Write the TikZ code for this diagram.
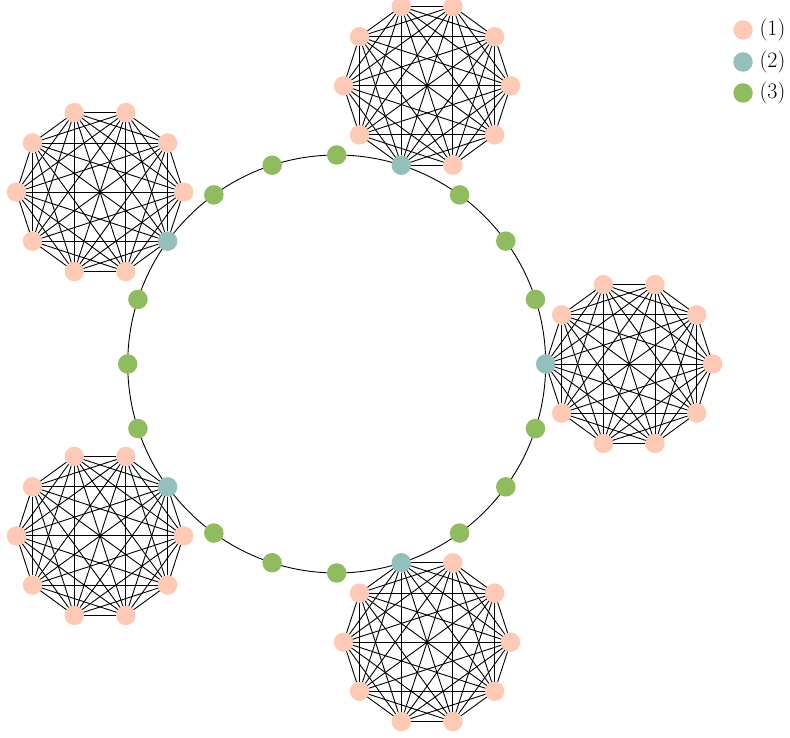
\documentclass[tikz,border=0pt]{standalone}
\definecolor{pinkc}{HTML}{FFCAB5}
\definecolor{tealc}{HTML}{93C0BD}
\definecolor{greenc}{HTML}{8FBC5E}
\begin{document}
\begin{tikzpicture}[x=1pt,y=1pt,
  dot/.style={circle,inner sep=0pt,outer sep=0pt,minimum size=19.5pt,draw=none},
  edge/.style={black,line width=0.9pt},
  ringline/.style={black,line width=0.9pt},
  legtext/.style={anchor=west,inner sep=0pt,font=\fontsize{22}{26}\selectfont}]
\useasboundingbox (0,0) rectangle (790,738);
\begin{scope}[shift={(336.7,374)}]
  \coordinate (O) at (0,0);
  \draw[ringline] (O) circle[radius=209];
  % green ring nodes
  \foreach \i in {1,...,19} {
    \pgfmathtruncatemacro\m{mod(\i,4)}
    \ifnum\m=0 \else
      \node[dot,fill=greenc] (r\i) at (18*\i:209) {};
    \fi
  }
  % cliques
  \foreach \j in {0,...,4} {
    \pgfmathtruncatemacro\kz{mod(2*\j+5,10)}
    \begin{scope}[shift={(72*\j:292.5)}]
      \foreach \k in {0,...,9} {
        \ifnum\k=\kz
          \node[dot,fill=tealc] (c\j-\k) at (36*\k:83.5) {};
        \else
          \node[dot,fill=pinkc] (c\j-\k) at (36*\k:83.5) {};
        \fi
      }
    \end{scope}
    \foreach \a in {0,...,8} {
      \pgfmathtruncatemacro\an{\a+1}
      \foreach \b in {\an,...,9} {
        \draw[edge] (c\j-\a) -- (c\j-\b);
      }
    }
  }
\end{scope}
% legend
\node[dot,fill=pinkc] (l1) at (743,708) {};
\node[legtext] (t1) at (759.5,708) {(1)};
\node[dot,fill=tealc] (l2) at (743,676) {};
\node[legtext] (t2) at (759.5,676) {(2)};
\node[dot,fill=greenc] (l3) at (743,645) {};
\node[legtext] (t3) at (759.5,645) {(3)};
\end{tikzpicture}
\end{document}
